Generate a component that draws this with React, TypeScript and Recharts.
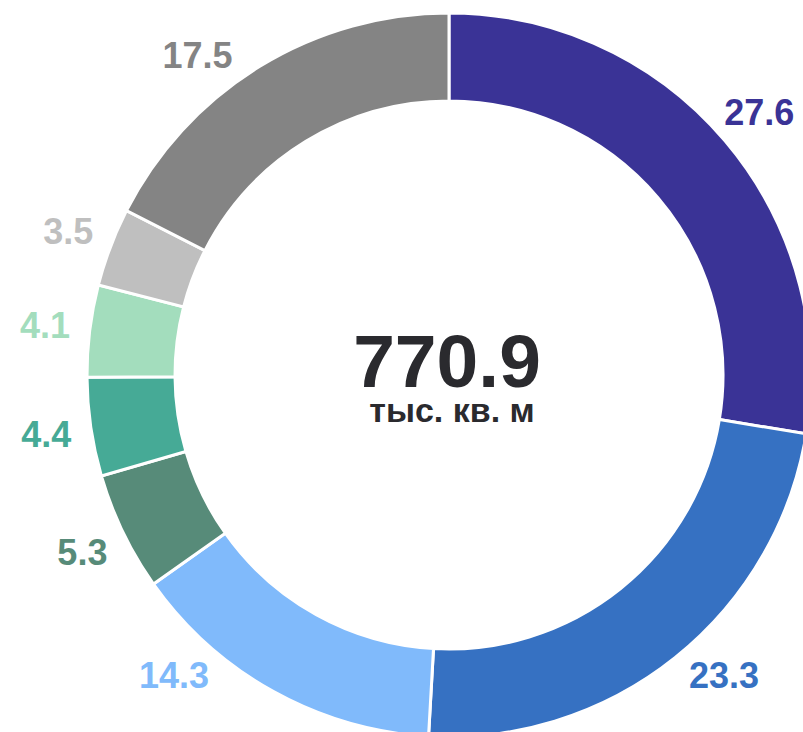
import React from 'react';
import { PieChart, Pie, Cell } from 'recharts';

const shares = [27.6, 23.3, 14.3, 5.3, 4.4, 4.1, 3.5, 17.5];
const sliceColors = ['#3a3396', '#3671c2', '#80bafb', '#578b79', '#46aa96', '#a3ddbd', '#bfbfbf', '#848484'];
const totalValue = '770.9';
const totalUnit = 'тыс. кв. м';

const chartData = shares.map((v, i) => ({ name: `s${i}`, value: v }));

const RAD = Math.PI / 180;
const FONT = '"Liberation Sans", Arial, sans-serif';

// labels sit on a circle around the ring; ones that would fall off the
// top/bottom get slid along that circle until they fit
function renderLabel(props: any) {
  const { cx, cy, midAngle, outerRadius, index, value } = props;
  const r = outerRadius + 45;
  let x = cx + r * Math.cos(-midAngle * RAD);
  let y = cy + r * Math.sin(-midAngle * RAD);
  const minDy = -320;
  const maxDy = 300;
  const side = x >= cx ? 1 : -1;
  if (y - cy < minDy || y - cy > maxDy) {
    const dy = Math.max(minDy, Math.min(maxDy, y - cy));
    y = cy + dy;
    x = cx + side * Math.sqrt(r * r - dy * dy);
  }
  return (
    <text
      x={x}
      y={y + 13}
      textAnchor="middle"
      fill={sliceColors[index]}
      fontSize={36}
      fontWeight="bold"
      fontFamily={FONT}
    >
      {value}
    </text>
  );
}

export default function App() {
  return (
    <div style={{ position: 'absolute', left: 0, top: 0, width: 803, height: 732, background: '#fff' }}>
      <PieChart width={803} height={732} margin={{ top: 0, right: 0, bottom: 0, left: 0 }}>
        <Pie
          data={chartData}
          dataKey="value"
          cx={449}
          cy={375}
          innerRadius={274}
          outerRadius={362}
          startAngle={90}
          endAngle={-270}
          stroke="#fff"
          strokeWidth={3}
          label={renderLabel}
          labelLine={false}
          isAnimationActive={false}
        >
          {chartData.map((d, i) => (
            <Cell key={d.name} fill={sliceColors[i]} />
          ))}
        </Pie>
        <text x={447} y={387} textAnchor="middle" fill="#2a2a2e" fontSize={75} fontWeight="bold" fontFamily={FONT}>
          {totalValue}
        </text>
        <text x={452} y={422} textAnchor="middle" fill="#2a2a2e" fontSize={34} fontWeight="bold" fontFamily={FONT}>
          {totalUnit}
        </text>
      </PieChart>
    </div>
  );
}
